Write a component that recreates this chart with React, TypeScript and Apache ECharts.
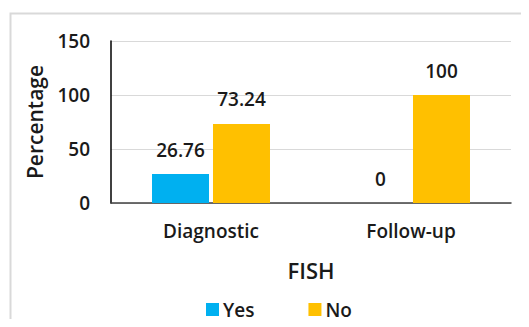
import React, { useEffect, useRef } from "react";
import * as echarts from "echarts";

const categories = ["Diagnostic", "Follow-up"];
const yesValues = [26.76, 0];
const noValues = [73.24, 100];
const seriesNames = ["Yes", "No"];
const yTicks = { min: 0, max: 150, interval: 50 };

const FONT = "'Open Sans', 'Liberation Sans', sans-serif";
const TEXT = "#1a1a1a";

export default function App() {
  const ref = useRef<HTMLDivElement>(null);

  useEffect(() => {
    if (!ref.current) return;
    const chart = echarts.init(ref.current, null, { renderer: "svg" });
    const label = {
      show: true,
      position: "top" as const,
      distance: 15,
      fontFamily: FONT,
      fontSize: 19,
      fontWeight: 600,
      color: TEXT,
    };
    chart.setOption({
      animation: false,
      backgroundColor: "#ffffff",
      textStyle: { fontFamily: FONT },
      graphic: [
        {
          type: "rect",
          shape: { x: 10.5, y: 13.5, width: 540, height: 340 },
          style: { fill: "none", stroke: "#d9d9d9", lineWidth: 2 },
          silent: true,
        },
      ],
      grid: { left: 111, top: 41, right: 18, bottom: 124 },
      legend: {
        data: seriesNames,
        left: 206,
        top: 300,
        padding: 0,
        itemWidth: 13,
        itemHeight: 13,
        itemGap: 54,
        icon: "rect",
        textStyle: { fontFamily: FONT, fontSize: 19, fontWeight: 600, color: TEXT, padding: [0, 0, 0, -1] },
      },
      xAxis: {
        type: "category",
        data: categories,
        name: "FISH",
        nameLocation: "middle",
        nameGap: 56,
        nameTextStyle: { fontFamily: FONT, fontSize: 22, fontWeight: 600, color: TEXT },
        axisLine: { lineStyle: { color: "#404040", width: 1.5 } },
        axisTick: { show: false },
        axisLabel: { margin: 18, fontFamily: FONT, fontSize: 19, fontWeight: 600, color: TEXT },
      },
      yAxis: {
        type: "value",
        min: yTicks.min,
        max: yTicks.max,
        interval: yTicks.interval,
        name: "Percentage",
        nameLocation: "middle",
        nameGap: 66,
        nameTextStyle: { fontFamily: FONT, fontSize: 21, fontWeight: 600, color: TEXT },
        axisLine: { show: true, lineStyle: { color: "#000000", width: 1.5 } },
        axisTick: { show: false },
        splitLine: { lineStyle: { color: "#d9d9d9", width: 1 } },
        axisLabel: { margin: 21, fontFamily: FONT, fontSize: 19, fontWeight: 600, color: TEXT },
      },
      series: [
        {
          name: seriesNames[0],
          type: "bar",
          data: yesValues,
          barWidth: 57,
          barGap: "7%",
          itemStyle: { color: "#00b0f0" },
          label,
        },
        {
          name: seriesNames[1],
          type: "bar",
          data: noValues,
          barWidth: 57,
          barGap: "7%",
          itemStyle: { color: "#ffc000" },
          label,
        },
      ],
    });
    return () => chart.dispose();
  }, []);

  return <div ref={ref} style={{ width: 529, height: 327, margin: -8 }} />;
}
